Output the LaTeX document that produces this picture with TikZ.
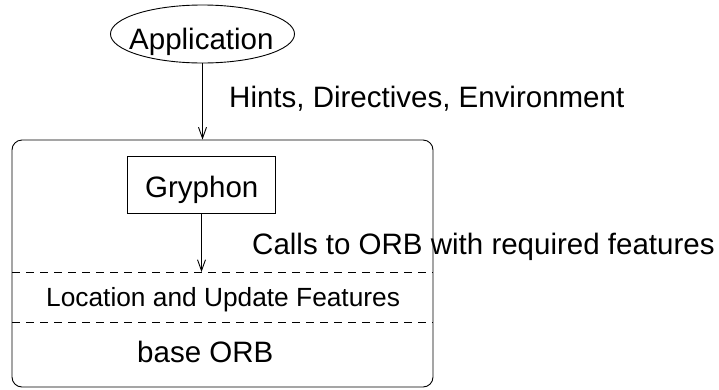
\documentclass[tikz,border=0pt]{standalone}
\usepackage{fontspec}
\setmainfont{Liberation Sans}
\usetikzlibrary{shapes.geometric,arrows.meta}
\tikzset{
  every picture/.style={x=1pt,y=-1pt},
  base/.style={line width=0.9pt},
  txt/.style={inner sep=0pt,anchor=base west,font=\fontsize{29.5}{34}\selectfont},
  smalltxt/.style={inner sep=0pt,anchor=base west,font=\fontsize{26.3}{30}\selectfont},
  arr/.style={base,-{Straight Barb[length=11pt,width=8pt,line width=0.9pt]}},
  sep/.style={base,dash pattern=on 8pt off 6pt}
}
\begin{document}
\begin{tikzpicture}
\useasboundingbox (0,0) rectangle (719,389);
\node[base,draw,ellipse,minimum width=184pt,minimum height=58pt,inner sep=0pt] (app) at (202.5,34) {};
\node[txt] (appt) at (129,49) {Application};
\node[base,draw,rounded corners=10pt,minimum width=421pt,minimum height=247pt,inner sep=0pt] (sys) at (222.5,263.5) {};
\node[base,draw,minimum width=148pt,minimum height=57pt,inner sep=0pt] (gry) at (201.5,184.7) {};
\node[txt] (gryt) at (145,197.5) {Gryphon};
\coordinate (l1) at (12,272);
\coordinate (l2) at (12,322);
\draw[sep] (l1) -- (l1 -| sys.east);
\draw[sep] (l2) -- (l2 -| sys.east);
\draw[arr] (app.south) -- (app.south |- sys.north);
\draw[arr] (gry.south) -- (gry.south |- l1);
\node[txt] (hints) at (229,107) {Hints, Directives, Environment};
\node[txt] (calls) at (252,254) {Calls to ORB with required features};
\node[smalltxt] (loc) at (46,306) {Location and Update Features};
\node[txt] (orb) at (137,362) {base ORB};
\end{tikzpicture}
\end{document}
